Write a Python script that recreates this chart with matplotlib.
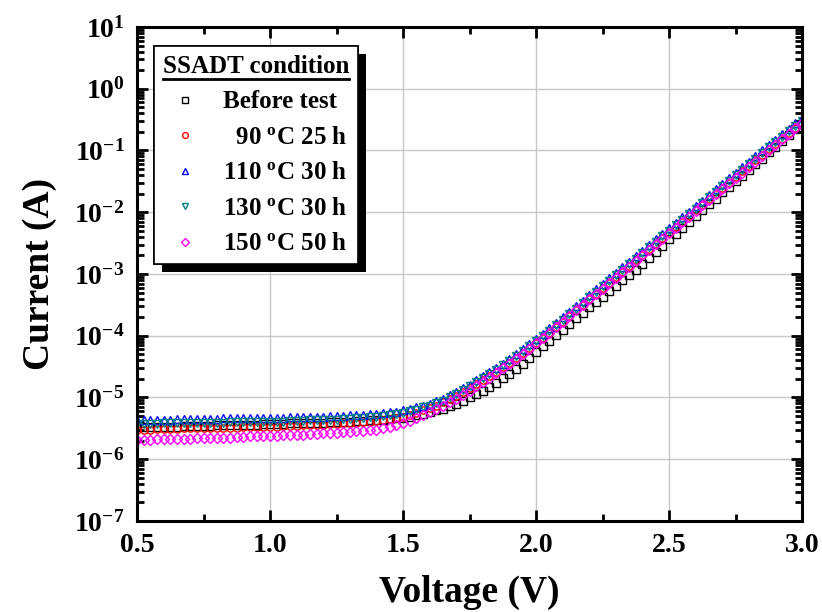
import matplotlib
matplotlib.use("Agg")
import matplotlib.pyplot as plt
import matplotlib.ticker as mticker
import matplotlib.patheffects as pe
from matplotlib.lines import Line2D
import numpy as np

plt.rcParams['font.family'] = ['Liberation Serif', 'DejaVu Serif']
plt.rcParams['font.weight'] = 'bold'
plt.rcParams['mathtext.fontset'] = 'custom'
plt.rcParams['mathtext.rm'] = 'Liberation Serif:bold'
plt.rcParams['mathtext.bf'] = 'Liberation Serif:bold'
plt.rcParams['mathtext.it'] = 'Liberation Serif:bold:italic'

# voltage sweep 0.5 V .. 3.0 V, 0.025 V step
voltage = [round(0.5 + 0.025 * i, 3) for i in range(101)]

# log10 of current (A)
log_before = [
    -5.48, -5.48, -5.48, -5.47, -5.47, -5.47, -5.47, -5.46, -5.46, -5.46, -5.46,
    -5.46, -5.45, -5.45, -5.45, -5.45, -5.44, -5.44, -5.44, -5.43, -5.43,
    -5.43, -5.43, -5.42, -5.42, -5.42, -5.41, -5.41, -5.41, -5.40, -5.40,
    -5.39, -5.39, -5.38, -5.38, -5.37, -5.37, -5.36, -5.35, -5.34, -5.33,
    -5.31, -5.29, -5.27, -5.24, -5.21, -5.18, -5.14, -5.10, -5.05, -5.00,
    -4.95, -4.89, -4.83, -4.76, -4.69, -4.62, -4.54, -4.46, -4.36, -4.26,
    -4.17, -4.08, -3.99, -3.90, -3.81, -3.72, -3.63, -3.54, -3.45, -3.37,
    -3.28, -3.19, -3.10, -3.01, -2.93, -2.84, -2.74, -2.64, -2.54, -2.44,
    -2.35, -2.25, -2.16, -2.06, -1.97, -1.87, -1.78, -1.68, -1.59, -1.50,
    -1.41, -1.31, -1.22, -1.13, -1.03, -0.94, -0.85, -0.75, -0.66, -0.57]
log_90 = [
    -5.52, -5.52, -5.52, -5.51, -5.51, -5.51, -5.51, -5.50, -5.50, -5.50, -5.50,
    -5.50, -5.49, -5.49, -5.49, -5.49, -5.48, -5.48, -5.48, -5.47, -5.47,
    -5.47, -5.46, -5.46, -5.46, -5.45, -5.45, -5.44, -5.44, -5.43, -5.43,
    -5.42, -5.41, -5.41, -5.40, -5.39, -5.38, -5.36, -5.35, -5.33, -5.31,
    -5.28, -5.25, -5.21, -5.17, -5.13, -5.08, -5.03, -4.97, -4.91, -4.85,
    -4.78, -4.72, -4.65, -4.58, -4.51, -4.44, -4.36, -4.28, -4.20, -4.12,
    -4.04, -3.95, -3.86, -3.77, -3.68, -3.59, -3.50, -3.41, -3.32, -3.23,
    -3.14, -3.05, -2.96, -2.87, -2.78, -2.69, -2.60, -2.51, -2.42, -2.33,
    -2.24, -2.15, -2.06, -1.97, -1.88, -1.79, -1.70, -1.61, -1.52, -1.43,
    -1.34, -1.25, -1.16, -1.07, -0.98, -0.90, -0.81, -0.72, -0.63, -0.55]
log_110 = [
    -5.36, -5.36, -5.36, -5.36, -5.36, -5.36, -5.35, -5.35, -5.35, -5.35, -5.35,
    -5.35, -5.35, -5.34, -5.34, -5.34, -5.34, -5.34, -5.33, -5.33, -5.33,
    -5.33, -5.33, -5.32, -5.32, -5.32, -5.31, -5.31, -5.31, -5.30, -5.30,
    -5.30, -5.29, -5.29, -5.28, -5.27, -5.26, -5.25, -5.24, -5.23, -5.21,
    -5.19, -5.16, -5.13, -5.10, -5.06, -5.02, -4.96, -4.91, -4.85, -4.79,
    -4.72, -4.66, -4.59, -4.52, -4.45, -4.38, -4.30, -4.22, -4.14, -4.05,
    -3.97, -3.88, -3.79, -3.70, -3.61, -3.52, -3.43, -3.34, -3.25, -3.16,
    -3.07, -2.98, -2.89, -2.80, -2.71, -2.62, -2.53, -2.44, -2.35, -2.26,
    -2.17, -2.08, -1.99, -1.90, -1.81, -1.72, -1.63, -1.54, -1.45, -1.36,
    -1.27, -1.18, -1.09, -1.00, -0.91, -0.83, -0.74, -0.65, -0.56, -0.48]
log_130 = [
    -5.43, -5.43, -5.43, -5.43, -5.42, -5.42, -5.42, -5.42, -5.42, -5.41, -5.41,
    -5.41, -5.41, -5.41, -5.40, -5.40, -5.40, -5.40, -5.40, -5.39, -5.39,
    -5.39, -5.39, -5.38, -5.38, -5.38, -5.37, -5.37, -5.37, -5.36, -5.36,
    -5.35, -5.35, -5.34, -5.33, -5.32, -5.31, -5.30, -5.28, -5.27, -5.25,
    -5.22, -5.20, -5.16, -5.13, -5.09, -5.05, -5.00, -4.94, -4.88, -4.82,
    -4.75, -4.69, -4.62, -4.55, -4.48, -4.41, -4.33, -4.25, -4.17, -4.09,
    -4.01, -3.92, -3.83, -3.74, -3.65, -3.56, -3.47, -3.38, -3.29, -3.20,
    -3.11, -3.02, -2.93, -2.84, -2.75, -2.66, -2.57, -2.48, -2.39, -2.30,
    -2.21, -2.12, -2.03, -1.94, -1.85, -1.76, -1.67, -1.58, -1.49, -1.40,
    -1.31, -1.22, -1.13, -1.04, -0.95, -0.87, -0.78, -0.69, -0.60, -0.52]
log_150 = [
    -5.69, -5.69, -5.69, -5.68, -5.68, -5.68, -5.67, -5.67, -5.67, -5.66, -5.66,
    -5.66, -5.65, -5.65, -5.65, -5.64, -5.64, -5.63, -5.63, -5.62, -5.62,
    -5.62, -5.61, -5.61, -5.60, -5.60, -5.59, -5.59, -5.58, -5.58, -5.57,
    -5.56, -5.56, -5.55, -5.54, -5.53, -5.52, -5.50, -5.48, -5.45, -5.42,
    -5.38, -5.34, -5.29, -5.24, -5.19, -5.14, -5.08, -5.02, -4.96, -4.89,
    -4.82, -4.75, -4.68, -4.61, -4.53, -4.45, -4.37, -4.29, -4.21, -4.12,
    -4.03, -3.95, -3.86, -3.77, -3.68, -3.59, -3.50, -3.41, -3.32, -3.24,
    -3.15, -3.06, -2.97, -2.88, -2.79, -2.70, -2.61, -2.52, -2.43, -2.34,
    -2.25, -2.16, -2.07, -1.98, -1.89, -1.80, -1.71, -1.62, -1.53, -1.45,
    -1.36, -1.27, -1.18, -1.09, -1.00, -0.91, -0.82, -0.73, -0.64, -0.55]

labels = ['Before test',
          r'  90 $^{\mathbf{o}}$C 25 h',
          r'110 $^{\mathbf{o}}$C 30 h',
          r'130 $^{\mathbf{o}}$C 30 h',
          r'150 $^{\mathbf{o}}$C 50 h']
series = [log_before, log_90, log_110, log_130, log_150]
colors = ['black', '#FF0000', '#0000FF', '#008080', '#FF00FF']
markers = ['s', 'o', '^', 'v', 'D']
sizes = [5.2, 5.2, 6, 6, 5.2]

fig = plt.figure(figsize=(8.22, 6.12), dpi=100)
ax = fig.add_axes([0.1667, 0.1487, 0.809, 0.8072])

for lg, lab, c, m, s in zip(series, labels, colors, markers, sizes):
    ax.plot(voltage, 10.0 ** np.array(lg), linestyle='none', marker=m,
            markersize=s, markerfacecolor='none', markeredgecolor=c,
            markeredgewidth=1.0, label=lab)

ax.set_yscale('log')
ax.set_xlim(0.5, 3.0)
ax.set_ylim(1e-7, 1e1)
ax.xaxis.set_major_locator(mticker.MultipleLocator(0.5))
ax.xaxis.set_minor_locator(mticker.MultipleLocator(0.25))
ax.xaxis.set_major_formatter(mticker.FormatStrFormatter('%.1f'))
ax.yaxis.set_major_locator(mticker.LogLocator(base=10, numticks=20))
ax.yaxis.set_minor_locator(mticker.LogLocator(base=10, subs=np.arange(2, 10), numticks=20))
ax.yaxis.set_minor_formatter(mticker.NullFormatter())
ax.yaxis.set_major_formatter(mticker.FuncFormatter(
    lambda v, p: r'$\mathbf{10^{%d}}$' % int(round(np.log10(v)))))

ax.grid(True, which='major', color='#c8c8c8', linewidth=1.0)
ax.set_axisbelow(True)
for sp in ax.spines.values():
    sp.set_linewidth(2.2)
ax.tick_params(which='both', direction='in', top=True, right=True, width=2)
ax.tick_params(which='major', length=8, labelsize=20, pad=9)
ax.tick_params(which='minor', length=5)

ax.set_xlabel('Voltage (V)', fontsize=27, fontweight='bold', labelpad=12)
ax.set_ylabel('Current (A)', fontsize=27, fontweight='bold', labelpad=12)

leg = ax.legend(loc='upper left', bbox_to_anchor=(0.0256, 0.9615),
                borderaxespad=0, title='SSADT condition', fancybox=False,
                edgecolor='black', framealpha=1, fontsize=18,
                title_fontproperties={'size': 18, 'weight': 'bold'},
                labelspacing=0.5, handletextpad=0.7, borderpad=0.35,
                handlelength=1.6, markerscale=0.8)
leg.get_frame().set_linewidth(1.2)
leg.get_frame().set_path_effects([
    pe.withSimplePatchShadow(offset=(6, -6), shadow_rgbFace='black', alpha=1.0),
    pe.Normal()])

fig.canvas.draw()
r = fig.canvas.get_renderer()
tb = leg.get_title().get_window_extent(r).transformed(fig.transFigure.inverted())
fig.add_artist(Line2D([tb.x0, tb.x1], [tb.y0 - 0.002, tb.y0 - 0.002],
                      transform=fig.transFigure, color='black', linewidth=2))

fig.savefig('out.png', dpi=100)
